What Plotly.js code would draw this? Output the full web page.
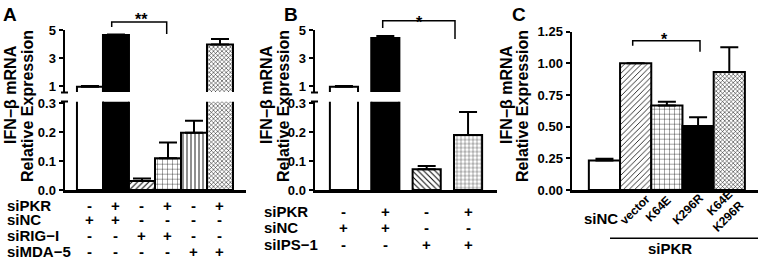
<!DOCTYPE html>
<html>
<head>
<meta charset="utf-8">
<script src="https://cdn.plot.ly/plotly-3.0.1.min.js"></script>
<style>html,body{margin:0;padding:0;background:#fff;}#chart{width:766px;height:261px;}</style>
</head>
<body>
<div id="chart"></div>
<script>
// ---------- DATA ----------
// Panel A
const aValues = [0.95, 4.65, 0.031, 0.11, 0.198, 3.97];
const aErrors = [0.05, 0.03, 0.009, 0.054, 0.042, 0.38];
const aRowNames = ['siPKR', 'siNC', 'siRIG−I', 'siMDA−5'];
const aRowSigns = [
  ['-', '+', '-', '+', '-', '+'],
  ['+', '+', '-', '-', '-', '-'],
  ['-', '-', '+', '+', '-', '-'],
  ['-', '-', '-', '-', '+', '+']
];
// Panel B
const bValues = [0.95, 4.43, 0.072, 0.19];
const bErrors = [0.05, 0.15, 0.011, 0.08];
const bRowNames = ['siPKR', 'siNC', 'siIPS−1'];
const bRowSigns = [
  ['-', '+', '-', '+'],
  ['+', '+', '-', '-'],
  ['-', '-', '+', '+']
];
// Panel C
const cCategories = ['siNC', 'vector', 'K64E', 'K296R', 'K64E<br>K296R'];
const cValues = [0.233, 1.0, 0.667, 0.505, 0.932];
const cErrors = [0.014, 0, 0.03, 0.07, 0.195];
const cGroupLabel = 'siPKR';
const yTitleLines = ['IFN−β mRNA', 'Relative Expression'];
const aUpperTicks = [1, 3, 5];
const lowerTicks = [0, 0.1, 0.2, 0.3];
const cTicks = [0, 0.25, 0.5, 0.75, 1.0, 1.25];

// ---------- LAYOUT HELPERS ----------
const W = 766, H = 261;
const px = v => v / W;
const py = v => 1 - v / H;
const upperRange = [0.571, 5];
const lowerRange = [0, 0.3055];

const FONT = 'Liberation Sans, Arial, sans-serif';
const idx = arr => arr.map((_, i) => i);
const inRange = (v, r) => (v >= r[0] ? v : null);
const errIn = (v, e, r) => (v >= r[0] && v <= r[1] ? e : 0);

// one trace per bar (overlay mode) so each bar gets its own fill pattern
function barTrace(x, y, err, xa, ya, width, st) {
  const marker = {color: st.color, line: {color: 'black', width: 2}};
  if (st.shape) marker.pattern = {shape: st.shape, fgcolor: 'black', bgcolor: 'white',
    size: st.size, solidity: st.solidity, fillmode: 'replace'};
  return {
    type: 'bar', x: [x], y: [y], xaxis: xa, yaxis: ya, width: width, marker: marker,
    error_y: {type: 'data', symmetric: false, array: [err], arrayminus: [0],
              color: 'black', thickness: 2, width: 9},
    hoverinfo: 'none'
  };
}

const WHITE = {color: 'white'}, BLACK = {color: 'black'};
const aStyle = [WHITE, BLACK,
  {color: 'white', shape: '/', size: 4, solidity: 0.25},
  {color: 'white', shape: '+', size: 5, solidity: 0.14},
  {color: 'white', shape: '|', size: 4, solidity: 0.22},
  {color: 'white', shape: 'x', size: 3, solidity: 0.3}];
const bStyle = [WHITE, BLACK,
  {color: 'white', shape: '\\', size: 4, solidity: 0.25},
  {color: 'white', shape: '+', size: 4, solidity: 0.16}];
const cStyle = [WHITE,
  {color: 'white', shape: '/', size: 4, solidity: 0.2},
  {color: 'white', shape: '+', size: 5, solidity: 0.14},
  BLACK,
  {color: 'white', shape: 'x', size: 3, solidity: 0.3}];

const aX = idx(aValues), bX = idx(bValues);
const traces = [];
aValues.forEach((v, i) => {
  traces.push(barTrace(aX[i], inRange(v, upperRange), errIn(v, aErrors[i], upperRange), 'x', 'y', 1, aStyle[i]));
  traces.push(barTrace(aX[i], v, errIn(v, aErrors[i], lowerRange), 'x', 'y2', 1, aStyle[i]));
});
bValues.forEach((v, i) => {
  traces.push(barTrace(bX[i], inRange(v, upperRange), errIn(v, bErrors[i], upperRange), 'x2', 'y3', 0.68, bStyle[i]));
  traces.push(barTrace(bX[i], v, errIn(v, bErrors[i], lowerRange), 'x2', 'y4', 0.68, bStyle[i]));
});
cValues.forEach((v, i) => {
  traces.push(barTrace(cCategories[i], v, cErrors[i], 'x3', 'y5', 1, cStyle[i]));
});

const lineAx = {showline: true, linecolor: 'black', linewidth: 2.5, showgrid: false, zeroline: false,
  fixedrange: true};
const yAx = Object.assign({}, lineAx, {ticks: 'outside', ticklen: 4, tickwidth: 2, tickcolor: 'black',
  tickfont: {family: FONT, size: 13, color: 'black', weight: 'bold'}, tickmode: 'array'});
const xAx = Object.assign({}, lineAx, {ticks: '', showticklabels: false});

const layout = {
  width: W, height: H, margin: {l: 0, r: 0, t: 0, b: 0}, barmode: 'overlay',
  paper_bgcolor: 'white', plot_bgcolor: 'rgba(0,0,0,0)', showlegend: false,
  font: {family: FONT, size: 13, color: 'black', weight: 'bold'},
  xaxis: Object.assign({}, xAx, {domain: [px(65), px(246)], anchor: 'y2', range: [-0.96, 6.0]}),
  yaxis: Object.assign({}, yAx, {domain: [py(92), py(30)], anchor: 'x', range: upperRange, tickvals: aUpperTicks}),
  yaxis2: Object.assign({}, yAx, {domain: [py(190), py(101.7)], anchor: 'x', range: lowerRange, tickvals: lowerTicks, tickformat: '.1f'}),
  xaxis2: Object.assign({}, xAx, {domain: [px(315), px(497)], anchor: 'y4', range: [-0.7, 3.7]}),
  yaxis3: Object.assign({}, yAx, {domain: [py(92), py(30)], anchor: 'x2', range: upperRange, tickvals: aUpperTicks}),
  yaxis4: Object.assign({}, yAx, {domain: [py(190), py(101.7)], anchor: 'x2', range: lowerRange, tickvals: lowerTicks, tickformat: '.1f'}),
  xaxis3: Object.assign({}, xAx, {domain: [px(572), px(758)], anchor: 'y5', range: [-1.04, 4.92],
    type: 'category', categoryorder: 'array', categoryarray: cCategories}),
  yaxis5: Object.assign({}, yAx, {domain: [py(190), py(31.7)], anchor: 'x3', range: [0, 1.25], tickvals: cTicks, tickformat: '.2f'}),
  annotations: [],
  shapes: []
};

const ann = layout.annotations, shp = layout.shapes;
const F = (s) => ({family: FONT, size: s, color: 'black', weight: 'bold'});
function txt(text, x, y, opts) {
  ann.push(Object.assign({text: text, x: x, y: y, xref: 'paper', yref: 'paper', showarrow: false,
    xanchor: 'center', yanchor: 'middle', font: F(15)}, opts || {}));
}
// panel letters
txt('A', px(10), py(14), {font: F(19)});
txt('B', px(290.5), py(14), {font: F(19)});
txt('C', px(518.5), py(14), {font: F(19)});
// y titles
[[11, 27], [267, 283], [507, 522]].forEach(p => {
  txt(yTitleLines[0], px(p[0]), py(95), {textangle: -90, font: F(16)});
  txt(yTitleLines[1], px(p[1]), py(106), {textangle: -90, font: F(16)});
});
// A rows
const aRowY = [205, 219.5, 235, 251.5];
aRowNames.forEach((n, r) => {
  txt(n, px(5), py(aRowY[r]), {xanchor: 'left'});
  aRowSigns[r].forEach((s, i) => ann.push({text: s, x: aX[i], y: py(aRowY[r]), xref: 'x', yref: 'paper',
    showarrow: false, xanchor: 'center', yanchor: 'middle', font: F(15)}));
});
// B rows
const bRowY = [211.5, 227.5, 244];
bRowNames.forEach((n, r) => {
  txt(n, px(261.5), py(bRowY[r]), {xanchor: 'left'});
  bRowSigns[r].forEach((s, i) => ann.push({text: s, x: bX[i], y: py(bRowY[r]), xref: 'x2', yref: 'paper',
    showarrow: false, xanchor: 'center', yanchor: 'middle', font: F(15)}));
});
// C category labels (rotated ones centred on their reference positions)
ann.push({text: cCategories[0], x: cCategories[0], y: py(218), xref: 'x3', yref: 'paper', showarrow: false,
  xanchor: 'center', yanchor: 'middle', xshift: -3, font: F(15)});
const cLabelDx = [0, -1, -9, -10, -6.5];
const cLabelY = [0, 210, 208.5, 209, 211];
cCategories.slice(1).forEach((c, k) => {
  ann.push({text: c, x: c, y: py(cLabelY[k + 1]), xref: 'x3', yref: 'paper', showarrow: false, textangle: -45,
    xanchor: 'center', yanchor: 'middle', align: 'right', xshift: cLabelDx[k + 1], font: F(12)});
});
txt(cGroupLabel, px(670), py(248));
shp.push({type: 'line', xref: 'paper', yref: 'paper', x0: px(610), x1: px(758), y0: py(238.3), y1: py(238.3),
  line: {color: 'black', width: 1.5}});
// axis break marks
[65, 315].forEach(x => {
  [92.5, 101.5].forEach(y => shp.push({type: 'line', xref: 'paper', yref: 'paper', x0: px(x - 4), x1: px(x + 3),
    y0: py(y), y1: py(y), line: {color: 'black', width: 2}}));
});
// significance brackets
function bracket(x1, x2, top, l, r, star, sx, sy) {
  shp.push({type: 'path', xref: 'paper', yref: 'paper',
    path: `M ${px(x1)},${py(l)} L ${px(x1)},${py(top)} L ${px(x2)},${py(top)} L ${px(x2)},${py(r)}`,
    line: {color: 'black', width: 1.5}});
  txt(star, px(sx), py(sy), {font: F(16)});
}
bracket(111.7, 166.7, 22, 27, 34, '**', 141, 20);
bracket(382.7, 455, 20.7, 28, 39, '*', 419.5, 23);
bracket(632.7, 700, 40.7, 45.7, 51.7, '*', 664, 40);

Plotly.newPlot('chart', traces, layout, {staticPlot: true, displayModeBar: false});
</script>
</body>
</html>
